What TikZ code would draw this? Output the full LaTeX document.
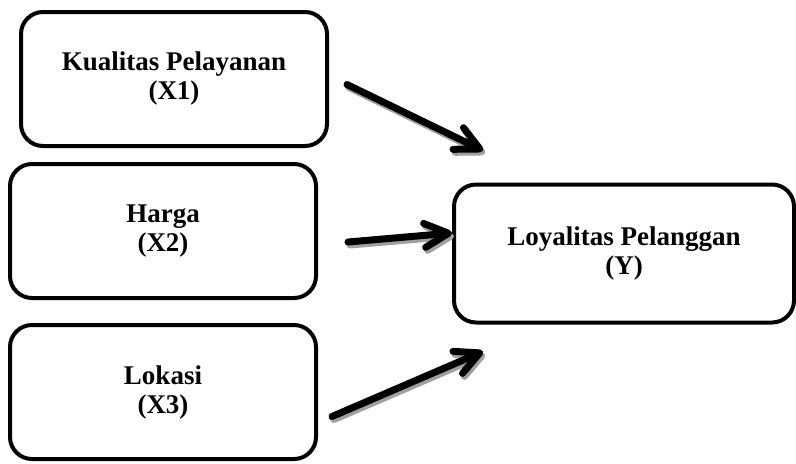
\documentclass[tikz,border=0pt]{standalone}
\usepackage{fontspec}
\setmainfont{Liberation Serif}
\usepackage{tikz}
\usetikzlibrary{
  arrows.meta,
  positioning,
  calc
}
\definecolor{ShadowGray}{RGB}{160,160,160}
\tikzset{
  varbox/.style={
    draw=black,
    fill=white,
    line width=2pt,
    rounded corners=11pt,
    align=center,
    font=\bfseries\fontsize{13.5}{14.5}\selectfont,
    inner sep=0pt
  },
  xbox/.style={varbox,minimum width=153pt,minimum height=67pt},
  ybox/.style={varbox,minimum width=170pt,minimum height=69pt},
  effect/.style={
    -{Straight Barb[length=12pt,width=12pt,line cap=round,line join=round]},
    line width=3.5pt,
    line cap=round,
    draw=black
  },
  effectshadow/.style={effect,draw=ShadowGray}
}

\begin{document}
\begin{tikzpicture}
  \useasboundingbox (0,0) rectangle (398pt,231.5pt);

  \node[xbox] (harga) at (81.5pt,116pt) {Harga\\(X2)};
  \node[xbox, above=7pt of harga, xshift=5.5pt] (kualitas) {Kualitas Pelayanan\\(X1)};
  \node[xbox, below=11.5pt of harga] (lokasi) {Lokasi\\(X3)};
  \node[ybox, right=67pt of harga, yshift=-11.25pt] (loyal) {Loyalitas Pelanggan\\(Y)};

  \coordinate (k1) at ($(kualitas.east)+(9pt,-2.75pt)$);
  \coordinate (k2) at ($(loyal.north west)+(15.5pt,16pt)$);
  \coordinate (h1) at ($(harga.east)+(15pt,-5.5pt)$);
  \coordinate (h2) at ($(loyal.west)+(0pt,10.25pt)$);
  \coordinate (l1) at ($(lokasi.east)+(7pt,-12.25pt)$);
  \coordinate (l2) at ($(loyal.south west)+(15.5pt,-13.5pt)$);

  % grey shadow first, then the black arrow
  \foreach \from/\to in {k1/k2,h1/h2,l1/l2}{
    \draw[effectshadow] ([shift={(1pt,-1.5pt)}]\from) -- ([shift={(1pt,-1.5pt)}]\to);
    \draw[effect] (\from) -- (\to);
  }
\end{tikzpicture}
\end{document}
